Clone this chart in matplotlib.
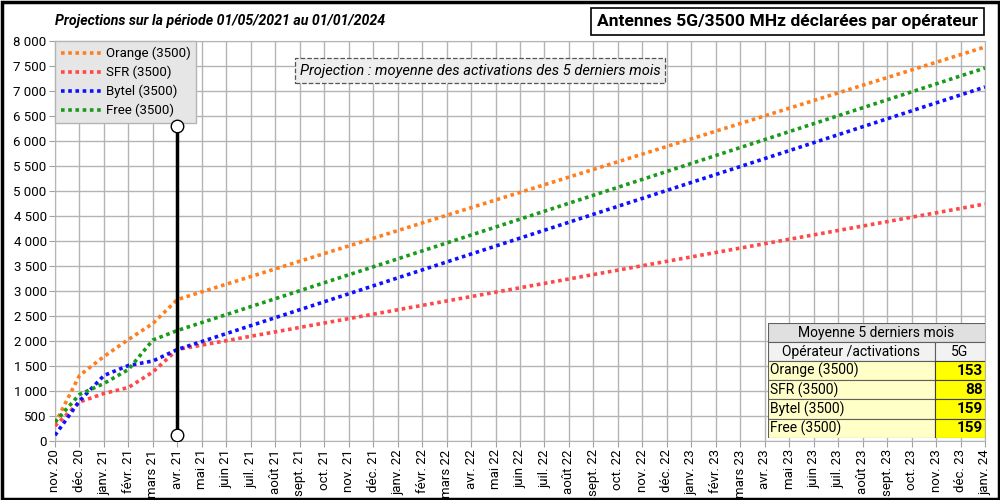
import matplotlib
matplotlib.use("Agg")
import matplotlib.pyplot as plt
from matplotlib.patches import Rectangle
from matplotlib.ticker import FuncFormatter, MultipleLocator

plt.rcParams['font.family'] = ['Roboto', 'DejaVu Sans']

months = ["nov. 20", "déc. 20", "janv. 21", "févr. 21", "mars 21", "avr. 21", "mai 21", "juin 21",
          "juil. 21", "août 21", "sept. 21", "oct. 21", "nov. 21", "déc. 21", "janv. 22", "févr. 22",
          "mars 22", "avr. 22", "mai 22", "juin 22", "juil. 22", "août 22", "sept. 22", "oct. 22",
          "nov. 22", "déc. 22", "janv. 23", "févr. 23", "mars 23", "avr. 23", "mai 23", "juin 23",
          "juil. 23", "août 23", "sept. 23", "oct. 23", "nov. 23", "déc. 23", "janv. 24"]

operators = ["Orange (3500)", "SFR (3500)", "Bytel (3500)", "Free (3500)"]
colors = ["#ff7f1e", "#ff4848", "#1010ff", "#1a9a1a"]
# observed values nov.20 -> avr.21
hist_orange = [350, 1310, 1690, 2030, 2350, 2830]
hist_sfr = [300, 780, 950, 1070, 1380, 1830]
hist_bytel = [115, 800, 1310, 1510, 1600, 1830]
hist_free = [380, 930, 1150, 1430, 2020, 2210]
# projected values at janv.24
end_values = [7880, 4740, 7080, 7460]
averages = [153, 88, 159, 159]

marker_low, marker_high = 120, 6300

fig = plt.figure(figsize=(10, 5), dpi=100)
ax = fig.add_axes([0.055, 0.118, 0.93, 0.8])

hists = [hist_orange, hist_sfr, hist_bytel, hist_free]
n_hist = len(hist_orange)
last = len(months) - 1
for name, h, end, c in zip(operators, hists, end_values, colors):
    xs = list(range(n_hist)) + [last]
    ys = list(h) + [end]
    ax.plot(xs, ys, color=c, lw=2.6, linestyle=(0, (1, 1)), label=name, zorder=3)

ax.plot([n_hist - 1, n_hist - 1], [marker_low, marker_high], color="black", lw=2.5, zorder=6,
        marker="o", markersize=9, markerfacecolor="white", markeredgecolor="black", markeredgewidth=1)

ax.set_xlim(0, last)
ax.set_ylim(0, 8000)
ax.set_xticks(range(len(months)))
ax.set_xticklabels(months, rotation=90, fontsize=9.5)
ax.yaxis.set_major_locator(MultipleLocator(500))
ax.yaxis.set_major_formatter(FuncFormatter(lambda v, p: f"{int(v):,}".replace(",", " ")))
ax.tick_params(axis="y", labelsize=9.5, length=4, color="#a0a0a0", pad=2)
ax.tick_params(axis="x", length=4, color="#a0a0a0", pad=2)
ax.grid(True, color="#b4b4b4", lw=1)
ax.set_axisbelow(True)
for s in ax.spines.values():
    s.set_color("#b4b4b4")

leg = ax.legend(loc="upper left", bbox_to_anchor=(0, 1), fontsize=9.5, frameon=True, fancybox=False,
                borderaxespad=0, handlelength=3.1, handletextpad=0.3, labelspacing=0.42,
                borderpad=0.45)
leg.get_frame().set_facecolor("#e6e6e6")
leg.get_frame().set_edgecolor("#b4b4b4")
leg.get_frame().set_alpha(1)
leg.set_zorder(5)

fig.text(0.055, 0.958, "Projections sur la période 01/05/2021 au 01/01/2024", fontsize=10.2,
         fontweight="bold", style="italic", ha="left", va="center")
fig.text(0.7875, 0.957, "Antennes 5G/3500 MHz déclarées par opérateur", fontsize=12.6,
         fontweight="bold", ha="center", va="center",
         bbox=dict(boxstyle="square,pad=0.35", facecolor="white", edgecolor="black", lw=1.2))
ax.text(0.457, 0.926, "Projection : moyenne des activations des 5 derniers mois", transform=ax.transAxes,
        fontsize=10.5, style="italic", ha="center", va="center", zorder=6,
        bbox=dict(boxstyle="square,pad=0.35", facecolor="#eeeeee", edgecolor="#555555", lw=0.9, ls="--"))

# table
tax = fig.add_axes([0.768, (500 - 438) / 500, 0.217, 115 / 500])
tax.set_xlim(0, 217)
tax.set_ylim(115, 0)
tax.axis("off")
rh = 19.1
split = 167
tax.add_patch(Rectangle((0, 0), 217, rh, facecolor="#e0e0e0", edgecolor="#606060", lw=0.8))
tax.text(108, rh / 2, "Moyenne 5 derniers mois", ha="center", va="center", fontsize=10)
tax.add_patch(Rectangle((0, rh), split, rh, facecolor="#f2f2f2", edgecolor="#606060", lw=0.8))
tax.add_patch(Rectangle((split, rh), 217 - split, rh, facecolor="#f2f2f2", edgecolor="#606060", lw=0.8))
tax.text(split / 2, rh * 1.5, "Opérateur /activations", ha="center", va="center", fontsize=10)
tax.text((split + 217) / 2, rh * 1.5, "5G", ha="center", va="center", fontsize=10)
for i, (name, v) in enumerate(zip(operators, averages)):
    y0 = rh * (2 + i)
    tax.add_patch(Rectangle((0, y0), split, rh, facecolor="#ffffc8", edgecolor="#606060", lw=0.8))
    tax.add_patch(Rectangle((split, y0), 217 - split, rh, facecolor="#ffff00", edgecolor="#404040", lw=0.8))
    tax.text(2, y0 + rh / 2, name, ha="left", va="center", fontsize=10)
    tax.text(215, y0 + rh / 2, str(v), ha="right", va="center", fontsize=11, fontweight="bold")

fig.add_artist(Rectangle((0.0015, 0.003), 0.997, 0.994, transform=fig.transFigure, fill=False,
                         edgecolor="black", lw=2.5))
fig.savefig("out.png", dpi=100)
